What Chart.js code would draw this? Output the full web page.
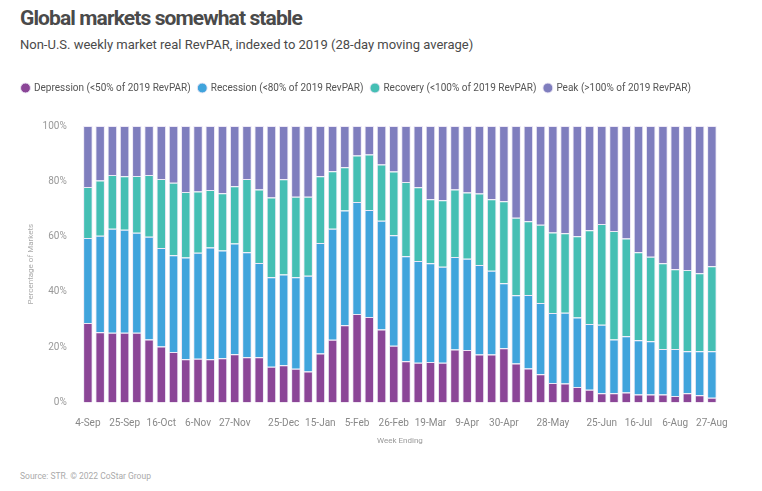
<!DOCTYPE html>
<html>
<head>
<meta charset="utf-8">
<script src="https://cdn.jsdelivr.net/npm/chart.js@4"></script>
<style>
  body { margin: 0; background: #fff; font-family: Roboto, sans-serif; }
  #wrap { position: relative; width: 762px; height: 491px; }
  #title { position: absolute; left: 20px; top: 6px; font-size: 21px; font-weight: 700; color: #4a4a4a; letter-spacing: -0.9px; }
  #sub { position: absolute; left: 20px; top: 37px; font-size: 13px; color: #4a4a4a; }
  #box { position: absolute; left: 0; top: 69px; width: 762px; height: 379px; }
  #src { position: absolute; left: 20px; top: 471px; font-size: 8.5px; color: #aaa; }
</style>
</head>
<body>
<div id="wrap">
  <div id="title">Global markets somewhat stable</div>
  <div id="sub">Non-U.S. weekly market real RevPAR, indexed to 2019 (28-day moving average)</div>
  <div id="box"><canvas id="myChart"></canvas></div>
  <div id="src">Source: STR. © 2022 CoStar Group</div>
</div>
<script>
const weeks = ['4-Sep','11-Sep','18-Sep','25-Sep','2-Oct','9-Oct','16-Oct','23-Oct','30-Oct','6-Nov','13-Nov','20-Nov','27-Nov',
  '4-Dec','11-Dec','18-Dec','25-Dec','1-Jan','8-Jan','15-Jan','22-Jan','29-Jan','5-Feb','12-Feb','19-Feb','26-Feb',
  '5-Mar','12-Mar','19-Mar','26-Mar','2-Apr','9-Apr','16-Apr','23-Apr','30-Apr','7-May','14-May','21-May','28-May',
  '4-Jun','11-Jun','18-Jun','25-Jun','2-Jul','9-Jul','16-Jul','23-Jul','30-Jul','6-Aug','13-Aug','20-Aug','27-Aug']
const shownWeeks = ['4-Sep','25-Sep','16-Oct','6-Nov','27-Nov','25-Dec','15-Jan','5-Feb','26-Feb','19-Mar','9-Apr','30-Apr','28-May','25-Jun','16-Jul','6-Aug','27-Aug']
const yTicks = ['0%','20%','40%','60%','80%','100%']

const depression = [28.7,25.4,25.2,25.2,25.2,22.8,20.2,18.2,15.6,15.8,15.6,16.0,17.4,16.3,16.3,12.9,13.4,12.2,11.2,17.7,
  22.7,27.9,32.0,30.9,26.4,20.5,14.9,14.3,14.6,14.3,19.1,19.0,17.3,17.3,19.6,14.1,12.3,10.2,7.0,6.8,
  5.6,4.6,3.3,3.3,3.6,2.9,2.9,2.9,2.3,3.3,2.6,1.7]
const recession = [30.8,34.9,37.6,37.3,36.2,37.1,35.7,35.0,36.8,38.3,40.4,39.0,40.1,38.0,34.1,32.4,32.9,33.1,34.6,40.0,
  40.1,41.5,40.5,38.7,39.3,40.0,38.0,36.9,35.7,34.8,33.5,33.0,32.4,30.3,23.5,24.7,26.6,25.8,25.3,25.6,
  25.1,23.8,24.8,19.5,20.3,19.6,19.2,16.4,17.0,15.2,15.9,16.8]
const recovery = [18.4,20.0,19.5,19.3,20.5,22.4,24.9,26.3,23.7,22.2,20.8,20.7,20.7,26.5,26.6,28.8,34.4,29.1,28.6,24.1,
  20.8,15.7,16.8,20.1,20.4,23.0,26.8,26.6,23.2,24.0,24.4,23.9,25.9,25.9,29.7,28.0,26.6,28.3,29.2,28.8,
  29.4,33.9,36.4,39.2,35.4,31.8,30.6,31.0,28.9,29.4,28.2,30.8]
const peak = [22.1,19.7,17.7,18.2,18.1,17.7,19.2,20.5,23.9,23.7,23.2,24.3,21.8,19.2,23.0,25.9,19.3,25.6,25.6,18.2,
  16.4,14.9,10.7,10.3,13.9,16.5,20.3,22.2,26.5,26.9,23.0,24.1,24.4,26.5,27.2,33.2,34.5,35.7,38.5,38.8,
  39.9,37.7,35.5,38.0,40.7,45.7,47.3,49.7,51.8,52.1,53.3,50.7]

const seriesNames = ['Depression (<50% of 2019 RevPAR)','Recession (<80% of 2019 RevPAR)','Recovery (<100% of 2019 RevPAR)','Peak (>100% of 2019 RevPAR)']
const colors = ['#8b4697','#40a4dc','#45bfb4','#7f7ebe']

const ds = [depression, recession, recovery, peak].map((d, i) => ({
  label: seriesNames[i],
  data: d,
  backgroundColor: colors[i],
  borderColor: 'rgba(235,230,245,0.9)',
  borderWidth: 1,
  categoryPercentage: 0.82,
  barPercentage: 0.95
}))

// push the plot down below the legend
const legendGap = {
  id: 'legendGap',
  beforeInit(chart) {
    const fit = chart.legend.fit
    chart.legend.fit = function() {
      fit.bind(chart.legend)()
      this.height += 23
    }
  }
}

new Chart(document.getElementById('myChart'), {
  type: 'bar',
  data: { labels: weeks, datasets: ds },
  plugins: [legendGap],
  options: {
    responsive: true,
    maintainAspectRatio: false,
    animation: false,
    layout: { padding: { left: 14, right: 10, top: 6, bottom: 0 } },
    plugins: {
      legend: {
        position: 'top',
        align: 'start',
        labels: {
          usePointStyle: true,
          pointStyle: 'circle',
          boxWidth: 7,
          boxHeight: 7,
          padding: 8,
          color: '#555',
          font: { family: 'Roboto', size: 10 }
        }
      },
      tooltip: { enabled: false }
    },
    scales: {
      x: {
        stacked: true,
        grid: { display: false },
        border: { display: false },
        ticks: {
          autoSkip: false,
          maxRotation: 0,
          padding: 8,
          color: '#888',
          font: { family: 'Roboto', size: 10, lineHeight: 1 },
          callback: function(value) {
            const l = weeks[value]
            return shownWeeks.includes(l) ? l : ''
          }
        },
        title: { display: true, text: 'Week Ending', color: '#999', font: { family: 'Roboto', size: 8 }, padding: { top: 0, bottom: 2 } }
      },
      y: {
        stacked: true,
        min: 0,
        max: 100,
        grid: { display: false },
        border: { display: false },
        ticks: {
          stepSize: 20,
          padding: 7,
          color: '#999',
          font: { family: 'Roboto', size: 10 },
          callback: function(value) { return yTicks[value / 20] }
        },
        title: { display: true, text: 'Percentage of Markets', color: '#aaa', font: { family: 'Roboto', size: 8 }, padding: { top: 12, bottom: 0 } }
      },
      spacer: {
        position: 'right',
        display: true,
        grid: { display: false },
        border: { display: false },
        ticks: { display: false },
        afterFit: function(scale) { scale.width = 34 }
      }
    }
  }
})
</script>
</body>
</html>
